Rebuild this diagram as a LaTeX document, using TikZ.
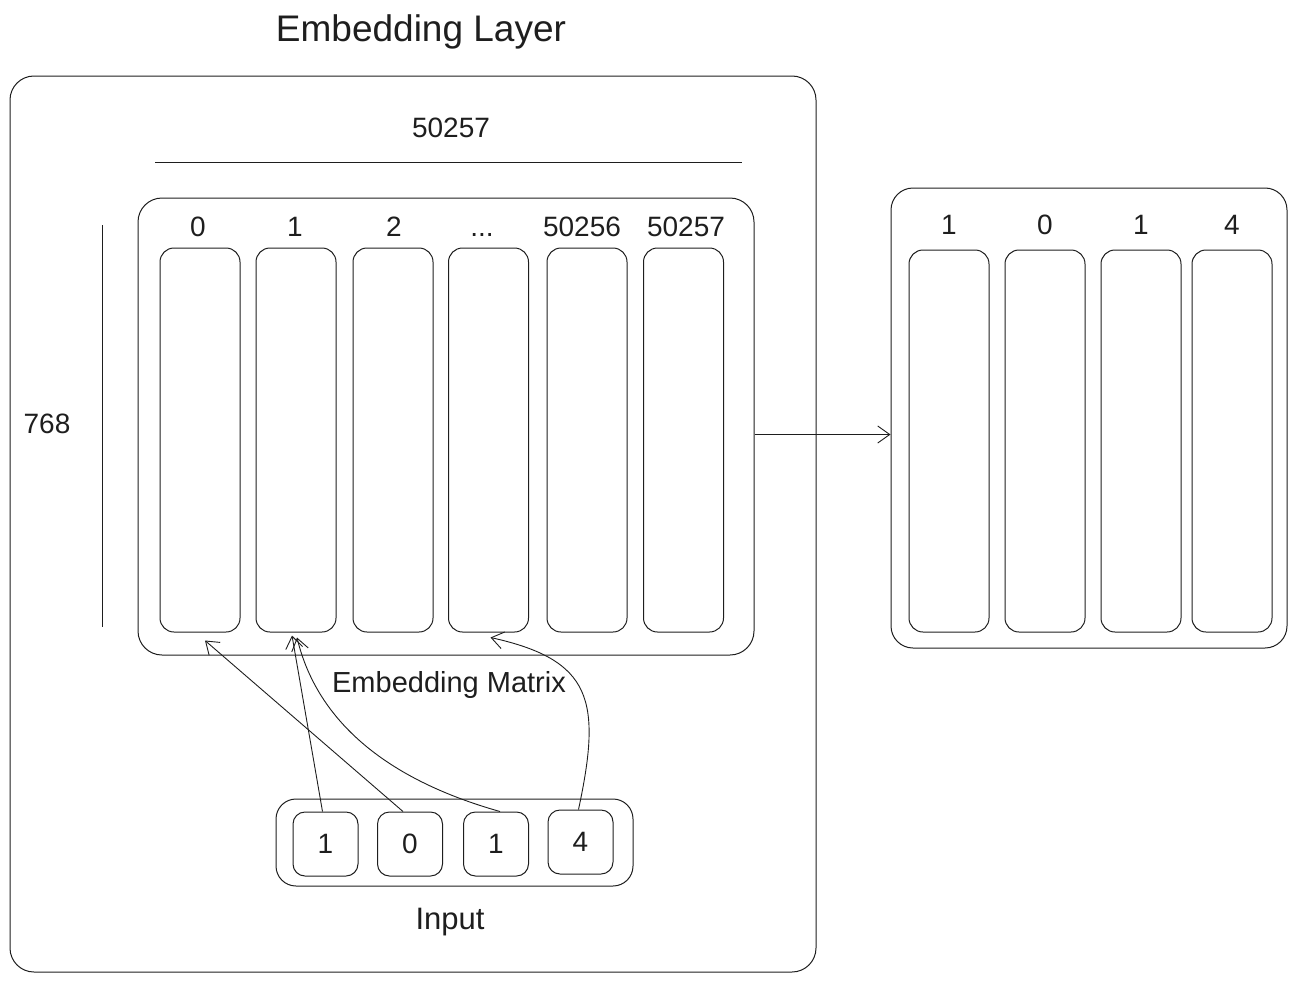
\documentclass[tikz,border=0pt]{standalone}
\usepackage{fontspec}
\setmainfont{Liberation Sans}
\usetikzlibrary{arrows.meta,positioning}
\definecolor{ink}{HTML}{1E1E1E}
\newcommand{\tokdots}{...}

\begin{document}
\begin{tikzpicture}[x=1pt,y=-1pt,>={Straight Barb[length=12pt,width=17pt]},
    box/.style={draw=ink,line width=1pt,rounded corners=24pt,inner sep=0pt},
    col/.style={draw=ink,line width=1pt,rounded corners=14pt,inner sep=0pt,
      minimum width=80pt,minimum height=384pt},
    cell/.style={draw=ink,line width=1pt,rounded corners=12pt,inner sep=0pt,
      minimum width=65pt,minimum height=64pt,font=\fontsize{28}{32}\selectfont\color{ink}},
    lbl/.style={font=\fontsize{28}{32}\selectfont\color{ink}},
    link/.style={draw=ink,line width=0.9pt,->}]
  \useasboundingbox (0,0) rectangle (1297,982);
  % title and outer frame
  \node[font=\fontsize{37}{42}\selectfont\color{ink}] (title) at (421,32) {Embedding Layer};
  \node[box,minimum width=806pt,minimum height=896pt] (layer) at (413,524) {};
  % dimensions of the matrix
  \node[lbl] (vocab) at (451,128) {50257};
  \draw[ink,line width=1pt] (155,162) -- (742,162);
  \node[lbl] (dim) at (47,424) {768};
  \draw[ink,line width=1pt] (102,225) -- (102,627);
  % embedding matrix, one column per token id
  \node[box,minimum width=616pt,minimum height=457pt] (mat) at (446,426.5) {};
  \foreach \x/\lx/\t [count=\i] in {200/198/0,296/295/1,393/394/2,488.5/482/\tokdots,587/582/50256,683.5/686/50257} {
    \node[col] (c\i) at (\x,440) {};
    \node[lbl,anchor=base] (t\i) at (\lx,236) {\t};
  }
  \node[font=\fontsize{29}{33}\selectfont\color{ink}] (matlbl) at (449,685) {Embedding Matrix};
  % input ids
  \node[box,rounded corners=20pt,minimum width=357pt,minimum height=87pt] (inp) at (454.5,842.5) {};
  \node[cell] (in1) at (325.5,844) {1};
  \node[cell] (in2) at (410,844) {0};
  \node[cell] (in3) at (496,844) {1};
  \node[cell] (in4) at (580.5,842) {4};
  \node[font=\fontsize{31}{35}\selectfont\color{ink}] (inlbl) at (450,922) {Input};
  % lookups
  \draw[link] ([xshift=-3pt]in1.north) -- ([xshift=-4pt,yshift=-3pt]c2.south);
  \draw[link] ([xshift=-7pt]in2.north) -- ([xshift=5pt,yshift=-8pt]c1.south);
  \draw[link] ([xshift=4pt]in3.north) .. controls (360,772) and (312,700) .. ([xshift=1pt,yshift=-5pt]c2.south);
  \draw[link] ([xshift=-2pt]in4.north) .. controls (602,700) and (592,660) .. ([xshift=2pt,yshift=-5pt]c4.south);
  % looked-up embeddings
  \node[box,rounded corners=22pt,minimum width=396pt,minimum height=460pt] (emb) at (1089,418) {};
  \foreach \x/\t [count=\i] in {949/1,1045/0,1141/1,1232/4} {
    \node[col,minimum height=382pt] (e\i) at (\x,441) {};
    \node[lbl,anchor=base] (u\i) at (\x,234) {\t};
  }
  \draw[link] ([yshift=-8pt]mat.east) coordinate (a) -- (a -| emb.west);
\end{tikzpicture}
\end{document}
